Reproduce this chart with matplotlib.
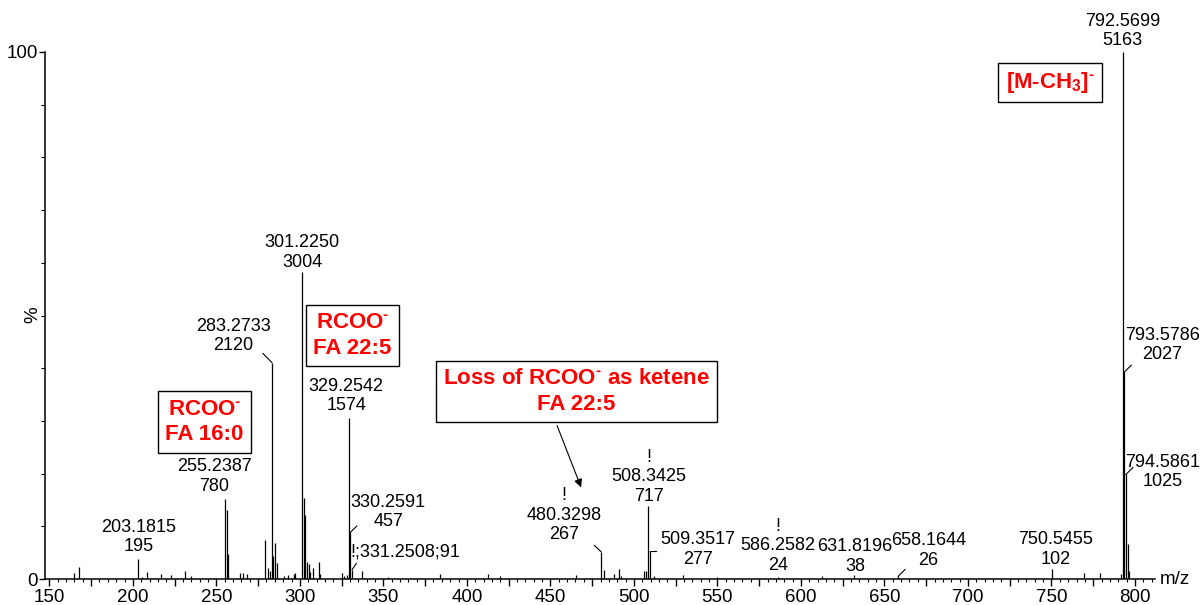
import numpy as np
import matplotlib
matplotlib.use("Agg")
import matplotlib.pyplot as plt
from matplotlib.ticker import MultipleLocator, FuncFormatter

plt.rcParams["font.family"] = ["Liberation Sans", "DejaVu Sans"]
plt.rcParams["mathtext.fontset"] = "custom"
plt.rcParams["mathtext.rm"] = "Liberation Sans:bold"
plt.rcParams["mathtext.it"] = "Liberation Sans:bold"
plt.rcParams["mathtext.bf"] = "Liberation Sans:bold"

# base peak counts (100 %)
base_count = 5163

# labelled peaks: m/z and counts
lab_mz = [203.1815, 255.2387, 283.2733, 301.2250, 329.2542, 330.2591, 331.2508,
          480.3298, 508.3425, 509.3517, 586.2582, 631.8196, 658.1644, 750.5455,
          792.5699, 793.5786, 794.5861]
lab_count = [195, 780, 2120, 3004, 1574, 457, 91,
             267, 717, 277, 24, 38, 26, 102,
             5163, 2027, 1025]

# unlabelled peaks (m/z, relative %)
minor_mz = [164.5, 167.5, 205.2, 208.2, 216.6, 223.1, 231.5, 234.8,
            256.2, 257.2, 264.2, 265.8, 268.6, 279.2, 280.8, 282.0, 284.0, 285.2, 286.4,
            290.5, 293.0, 296.2, 297.2, 302.2, 303.2, 304.2, 305.2, 306.3, 307.9, 311.2, 312.1,
            325.3, 326.5, 328.3, 337.3, 353.0, 383.9, 412.7, 419.7, 465.3, 482.3, 488.3,
            490.9, 492.0, 506.3, 507.3, 512.3, 529.3, 550.0, 612.8, 769.2, 779.3,
            791.6, 795.6, 796.6]
minor_pct = [1.2, 2.3, 0.4, 1.3, 0.9, 0.8, 1.6, 0.5,
             13.0, 4.7, 1.2, 1.1, 1.0, 7.4, 2.1, 1.6, 4.4, 6.8, 3.1,
             0.6, 0.7, 0.9, 1.1, 15.3, 12.2, 3.2, 2.8, 1.4, 2.1, 3.2, 1.0,
             1.1, 0.6, 0.8, 1.6, 0.4, 1.0, 1.0, 0.6, 0.8, 1.8, 0.9,
             1.9, 0.6, 1.5, 1.5, 0.5, 0.7, 0.4, 0.5, 1.2, 1.1,
             1.0, 6.6, 1.5]

lab_pct = [100.0 * c / base_count for c in lab_count]

fig = plt.figure(figsize=(12.04, 6.05), dpi=100)
ax = fig.add_axes([45 / 1204, 1 - 579 / 605, 1110 / 1204, 527 / 605])

ax.vlines(minor_mz, 0, minor_pct, color="black", lw=0.9)
ax.vlines(lab_mz, 0, lab_pct, color="black", lw=0.9)

ax.set_xlim(147.4, 812.0)
ax.set_ylim(0, 100)

for s in ["top", "right"]:
    ax.spines[s].set_visible(False)
ax.spines["left"].set_linewidth(1.1)
ax.spines["bottom"].set_linewidth(1.1)

ax.xaxis.set_major_locator(MultipleLocator(25))
ax.xaxis.set_minor_locator(MultipleLocator(5))
ax.xaxis.set_major_formatter(FuncFormatter(lambda v, p: f"{v:.0f}" if v % 50 == 0 else ""))
ax.tick_params(axis="x", which="major", length=5, width=1, labelsize=13.5, pad=2)
ax.tick_params(axis="x", which="minor", length=2.5, width=0.8)
ax.set_yticks([0, 100])
ax.yaxis.set_minor_locator(MultipleLocator(10))
ax.tick_params(axis="y", which="major", length=4, width=1, labelsize=13.5, pad=1)
ax.tick_params(axis="y", which="minor", length=3, width=0.8)

fig.text(33 / 1204, 1 - 315 / 605, "%", rotation=90, fontsize=13.5, ha="center", va="center")
fig.text(1160 / 1204, 1 - 579 / 605, "m/z", fontsize=13.5, ha="left", va="center")

fs = 13
tk = dict(fontsize=fs, ha="center", va="center", clip_on=False, linespacing=1.2)

# peak labels (positions in data units)
ax.text(792.6, 104.0, "792.5699\n5163", **tk)
ax.text(301.3, 62.0, "301.2250\n3004", **tk)
ax.text(260.0, 46.1, "283.2733\n2120", **tk)
ax.text(327.7, 34.7, "329.2542\n1574", **tk)
ax.text(248.7, 19.4, "255.2387\n780", **tk)
ax.text(203.2, 8.0, "203.1815\n195", **tk)
ax.text(352.9, 12.7, "330.2591\n457", **tk)
ax.text(330.2, 5.1, "!;331.2508;91", fontsize=fs, ha="left", va="center", clip_on=False)
ax.text(458.2, 12.1, "!\n480.3298\n267", **tk)
ax.text(509.2, 19.4, "!\n508.3425\n717", **tk)
ax.text(538.5, 5.6, "509.3517\n277", **tk)
ax.text(586.4, 6.3, "!\n586.2582\n24", **tk)
ax.text(632.5, 4.3, "631.8196\n38", **tk)
ax.text(676.2, 5.4, "658.1644\n26", **tk)
ax.text(752.6, 5.6, "750.5455\n102", **tk)
ax.text(816.5, 44.4, "793.5786\n2027", **tk)
ax.text(816.5, 20.3, "794.5861\n1025", **tk)

# leader lines from labels to peak tops
lk = dict(color="black", lw=0.8, clip_on=False)
ax.plot([283.2733 - 5.4, 283.2733], [42.8, lab_pct[2]], **lk)
ax.plot([330.2591, 330.2591 + 3.8], [lab_pct[5], lab_pct[5] + 1.2], **lk)
ax.plot([331.2508, 331.2508 + 2.6], [lab_pct[6], lab_pct[6] + 1.2], **lk)
ax.plot([480.3298 - 4.0, 480.3298], [lab_pct[7] + 1.2, lab_pct[7]], **lk)
ax.plot([509.3517, 509.3517 + 4.0], [lab_pct[9], lab_pct[9]], **lk)
ax.plot([658.1644, 658.1644 + 4.2], [lab_pct[12], lab_pct[12] + 1.3], **lk)
ax.plot([793.5786, 793.5786 + 4.2], [lab_pct[15], lab_pct[15] + 1.3], **lk)
ax.plot([794.5861, 794.5861 + 4.2], [lab_pct[16], lab_pct[16] + 1.3], **lk)

# annotation boxes
bk = dict(fontsize=16, fontweight="bold", color="red", ha="center", va="center",
          linespacing=1.3, clip_on=False,
          bbox=dict(boxstyle="square,pad=0.33", fc="white", ec="black", lw=1))
sup = r"$^{\text{-}}$"
ax.text(243.0, 29.8, "RCOO" + sup + "\nFA 16:0", **bk)
ax.text(331.6, 46.2, "RCOO" + sup + "\nFA 22:5", **bk)
ax.text(465.7, 35.6, "Loss of RCOO" + sup + " as ketene\nFA 22:5", **bk)
ax.text(749.3, 94.2, "[M-CH$_{3}$]" + sup, **bk)

ax.annotate("", xy=(469.0, 16.9), xytext=(453.4, 29.6),
            arrowprops=dict(arrowstyle="-|>", color="black", lw=0.8, mutation_scale=12))

fig.savefig("out.png", dpi=100)
